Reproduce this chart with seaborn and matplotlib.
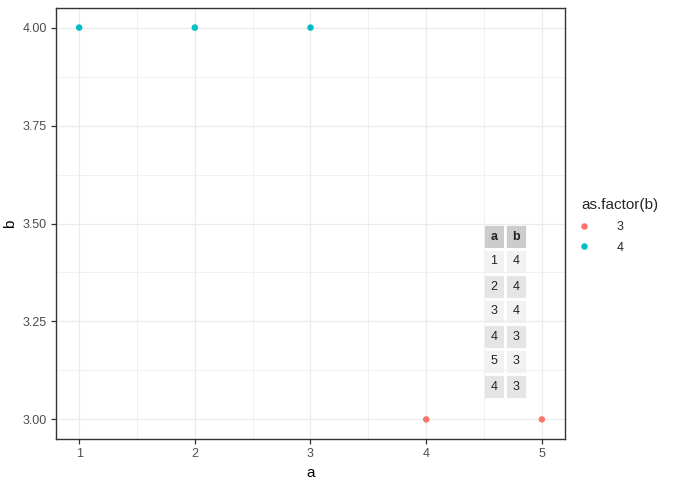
import pandas as pd
import matplotlib
matplotlib.use("Agg")
import matplotlib.pyplot as plt
import seaborn as sns
from matplotlib.ticker import MultipleLocator

# dane
a = [1, 2, 3, 4, 5]
b = [4, 4, 4, 3, 3]
# tabela w rogu (tak jak na obrazku)
tab_a = [1, 2, 3, 4, 5, 4]
tab_b = [4, 4, 4, 3, 3, 3]

df = pd.DataFrame({"a": a, "b": b})
df["as.factor(b)"] = df["b"].astype(str)

sns.set_theme(style="white")
plt.rcParams['font.family'] = ['Arial', 'Liberation Sans', 'DejaVu Sans']

fig = plt.figure(figsize=(6.76, 4.84), dpi=100)
ax = fig.add_axes([56/676, 1 - 439/484, 509/676, 431/484])

sns.scatterplot(data=df, x="a", y="b", hue="as.factor(b)", hue_order=["3", "4"],
                palette=["#F8766D", "#00BFC4"], s=22, edgecolor="none", ax=ax)

ax.set_xlim(0.8, 5.2)
ax.set_ylim(2.95, 4.05)
ax.xaxis.set_major_locator(MultipleLocator(1))
ax.yaxis.set_major_locator(MultipleLocator(0.25))
ax.xaxis.set_minor_locator(MultipleLocator(0.5))
ax.yaxis.set_minor_locator(MultipleLocator(0.125))
ax.yaxis.set_major_formatter(matplotlib.ticker.FormatStrFormatter("%.2f"))
ax.grid(True, which="major", color="#ebebeb", linewidth=0.9)
ax.grid(True, which="minor", color="#ebebeb", linewidth=0.5)
ax.set_axisbelow(True)
for sp in ax.spines.values():
    sp.set_color("#333333")
    sp.set_linewidth(1.0)
ax.tick_params(axis="both", which="major", length=3.5, width=0.9, color="#333333",
               labelsize=9, labelcolor="#4d4d4d", pad=3, bottom=True, left=True)
ax.tick_params(axis="both", which="minor", length=0)
ax.set_xlabel("a", fontsize=11, color="black", labelpad=4)
ax.set_ylabel("b", fontsize=11, color="black", labelpad=4)

# legenda
leg = ax.legend(title="as.factor(b)", loc="upper left", bbox_to_anchor=(570/676, 1 - 187/484),
                bbox_transform=fig.transFigure, frameon=False, fontsize=9,
                title_fontsize=11, markerscale=1.0, handlelength=0.5,
                handletextpad=2.3, labelspacing=0.7)
leg._legend_box.align = "left"

# tabela
cells = [[str(x), str(y)] for x, y in zip(tab_a, tab_b)]
tbl = ax.table(cellText=cells, colLabels=["a", "b"], cellLoc="center",
               bbox=[(483 - 56)/509, (439 - 399)/431, 44/509, 175/431])
tbl.auto_set_font_size(False)
for (r, c), cell in tbl.get_celld().items():
    cell.set_edgecolor("white")
    cell.set_linewidth(2)
    cell.get_text().set_fontsize(9)
    cell.get_text().set_color("#222222")
    if r == 0:
        cell.set_facecolor("#cccccc")
        cell.get_text().set_fontweight("bold")
    else:
        cell.set_facecolor("#f2f2f2" if r % 2 == 1 else "#e5e5e5")

plt.savefig("out.png", dpi=100)
